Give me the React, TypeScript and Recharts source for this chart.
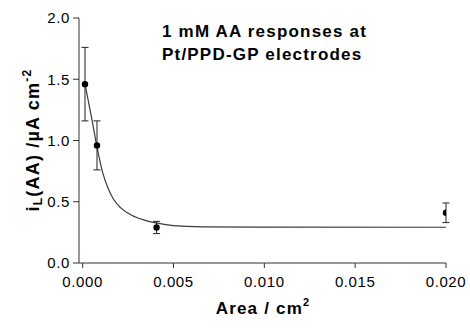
import React from "react";
import {
  ComposedChart,
  Line,
  Scatter,
  ErrorBar,
  XAxis,
  YAxis,
} from "recharts";

// measured points (area in cm2, current in uA cm-2)
const areas = [0.00013, 0.00079, 0.00407, 0.02];
const currents = [1.46, 0.96, 0.29, 0.41];
const errors = [0.3, 0.2, 0.05, 0.08];

// fitted curve
const fitAreas = [0.00013, 0.0005, 0.0008, 0.0011, 0.0014, 0.0017, 0.0021, 0.0027, 0.0034, 0.0041, 0.005, 0.0066, 0.01, 0.02];
const fitCurrents = [1.46, 1.18, 0.94, 0.74, 0.61, 0.52, 0.45, 0.39, 0.35, 0.325, 0.305, 0.295, 0.293, 0.292];

const xTicks = [0, 0.005, 0.01, 0.015, 0.02];
const yTicks = [0, 0.5, 1.0, 1.5, 2.0];

const points = areas.map((x, i) => ({ x, y: currents[i], err: errors[i] }));
const curve = fitAreas.map((x, i) => ({ x, y: fitCurrents[i] }));

const font = "Arial, 'Liberation Sans', sans-serif";
const tickStyle = { fontSize: 15, fill: "#000", fontFamily: font, letterSpacing: 0.6 };

export default function App() {
  return (
    <div style={{ position: "absolute", left: 0, top: 0, width: 470, height: 329, background: "#fff", fontFamily: font }}>
      <ComposedChart
        width={470}
        height={329}
        margin={{ top: 18, right: 24, bottom: 26, left: 19 }}
      >
        <XAxis
          dataKey="x"
          type="number"
          domain={[-0.0002, 0.02]}
          ticks={xTicks}
          tickFormatter={(v: number) => v.toFixed(3)}
          tick={tickStyle}
          tickSize={5}
          tickMargin={8}
          stroke="#333"
          height={40}
          allowDataOverflow
        />
        <YAxis
          dataKey="y"
          type="number"
          domain={[0, 2]}
          ticks={yTicks}
          tickFormatter={(v: number) => v.toFixed(1)}
          tick={tickStyle}
          tickSize={6}
          tickMargin={3}
          stroke="#333"
          width={60}
        />
        <Line
          data={curve}
          dataKey="y"
          type="monotone"
          stroke="#3a3a3a"
          strokeWidth={1.2}
          dot={false}
          isAnimationActive={false}
        />
        <Scatter
          data={points}
          dataKey="y"
          fill="#000"
          shape={(p: any) => <circle cx={p.cx} cy={p.cy} r={3.2} fill="#000" />}
          isAnimationActive={false}
        >
          <ErrorBar dataKey="err" direction="y" width={3.5} stroke="#222" strokeWidth={1} />
        </Scatter>
      </ComposedChart>

      {/* title */}
      <div
        style={{
          position: "absolute",
          left: 162,
          top: 21,
          width: 200,
          textAlign: "center",
          fontSize: 17,
          fontWeight: "bold",
          lineHeight: "22.5px",
          letterSpacing: 1.2,
          whiteSpace: "nowrap",
        }}
      >
        1 mM AA responses at
        <br />
        Pt/PPD-GP electrodes
      </div>

      {/* y label */}
      <div
        style={{
          position: "absolute",
          left: 27 - 100,
          top: 140 - 10,
          width: 200,
          height: 20,
          lineHeight: "20px",
          textAlign: "center",
          fontSize: 18,
          fontWeight: "bold",
          letterSpacing: 1.2,
          whiteSpace: "nowrap",
          transform: "rotate(-90deg)",
        }}
      >
        i<sub style={{ fontSize: 12, verticalAlign: "-3px" }}>L</sub>(AA) /µA cm
        <sup style={{ fontSize: 12, verticalAlign: "8px" }}>-2</sup>
      </div>

      {/* x label */}
      <div
        style={{
          position: "absolute",
          left: 163,
          top: 292,
          width: 200,
          lineHeight: "20px",
          textAlign: "center",
          fontSize: 17,
          fontWeight: "bold",
          letterSpacing: 1.2,
          whiteSpace: "nowrap",
        }}
      >
        Area / cm<sup style={{ fontSize: 11, verticalAlign: "8px" }}>2</sup>
      </div>
    </div>
  );
}
